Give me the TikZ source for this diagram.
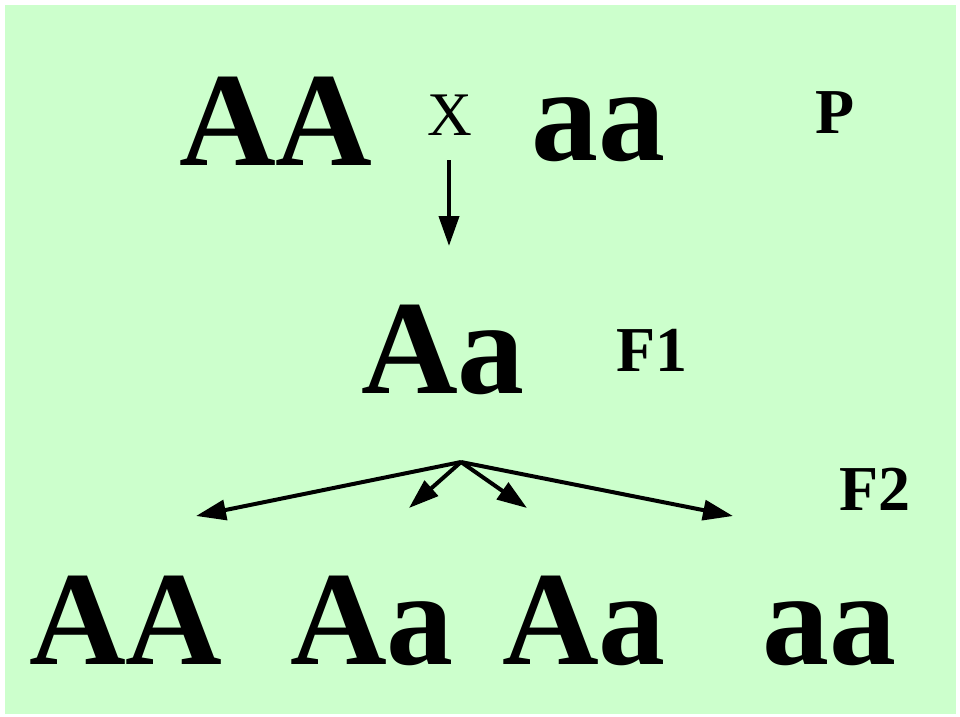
\documentclass[tikz,border=0pt]{standalone}
\usepackage{fontspec}
\setmainfont{Liberation Serif}
\usetikzlibrary{arrows.meta}
\definecolor{slidegreen}{HTML}{CCFFCC}
\begin{document}
\begin{tikzpicture}[x=1pt,y=-1pt,
big/.style={inner sep=0pt,anchor=base,font=\fontsize{134}{134}\selectfont\bfseries},
small/.style={inner sep=0pt,anchor=base,font=\fontsize{64}{64}\selectfont\bfseries},
cross/.style={inner sep=0pt,anchor=base,font=\fontsize{62}{62}\selectfont},
arr/.style={line width=4pt,-{Triangle[length=30pt,width=20pt]}},
]

% slide
\fill[white] (0,0) rectangle (960,716);
\fill[slidegreen] (5,5) rectangle (956,714);

% P
\node[big] (pAA) at (276,165) {AA};
\node[cross] (times) at (450,135) {X};
\node[big] (paa) at (598,160) {aa};
\node[small] (plabel) at (835,133) {P};

% F1
\node[big] (fAa) at (443,393) {Aa};
\node[small] (flabel) at (652,371) {F1};

% F2
\node[small] (slabel) at (875,510) {F2};
\node[big] (sAA) at (126,664) {AA};
\node[big] (sAa) at (372,664) {Aa};
\node[big] (sAb) at (584,664) {Aa};
\node[big] (saa) at (829,664) {aa};

\coordinate (down) at (449,160);
\coordinate (downtip) at (449,246);
\coordinate (split) at (461,462);
\coordinate (tipAA) at (196,516);
\coordinate (tipAa) at (409,508);
\coordinate (tipAb) at (527,508);
\coordinate (tipaa) at (733,516);

\path[arr] 	(down) 	edge 	node {} (downtip)
			(split) 	edge 	node {} (tipAA)
			(split) 	edge 	node {} (tipAa)
			(split) 	edge 	node {} (tipAb)
			(split) 	edge 	node {} (tipaa);

\end{tikzpicture}
\end{document}
